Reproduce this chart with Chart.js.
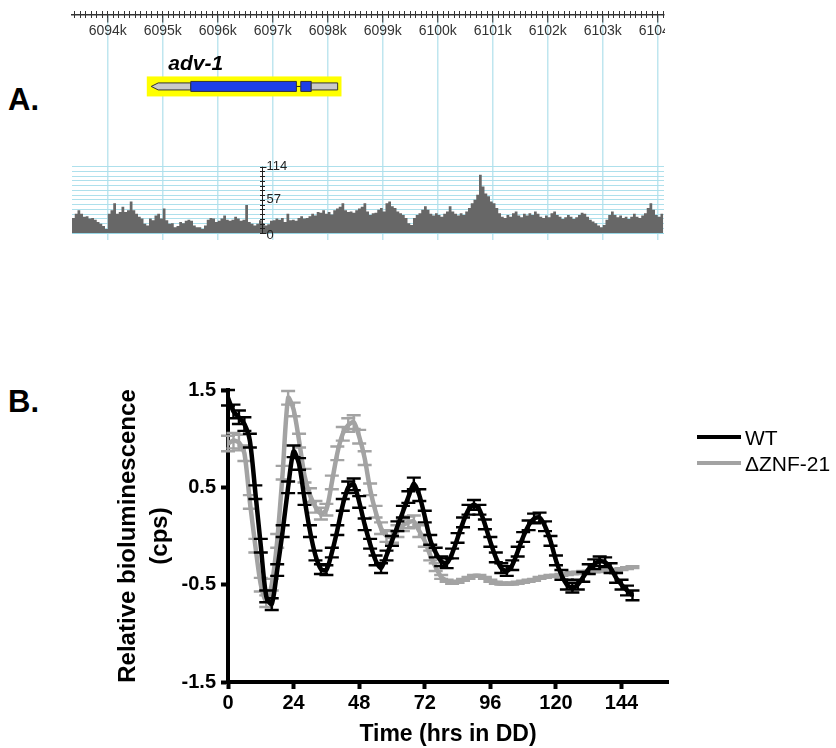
<!DOCTYPE html>
<html><head><meta charset="utf-8">
<script src="https://cdn.jsdelivr.net/npm/chart.js@4.4.1/dist/chart.umd.min.js"></script>
<style>
html,body{margin:0;padding:0;background:#fff;width:836px;height:748px;overflow:hidden;font-family:"Liberation Sans",Arial,sans-serif;}
#wrapA{position:absolute;left:0;top:0;width:665px;height:245px;overflow:hidden;}
#cA{position:absolute;left:0;top:0;}
#wrapB{position:absolute;left:0;top:370px;width:836px;height:378px;}
.panel{position:absolute;font-weight:bold;font-size:31px;line-height:1;}
#legend{position:absolute;left:697px;top:424px;font-size:21px;line-height:1;}
.li{display:flex;align-items:center;height:26px;white-space:nowrap;}
.sw{width:44px;height:4px;margin-right:4px;}
</style></head><body>
<div class="panel" style="left:8px;top:84px">A.</div>
<div class="panel" style="left:8px;top:386px">B.</div>
<div id="wrapA"><canvas id="cA" width="760" height="245"></canvas></div>
<div id="wrapB"><canvas id="cB" width="836" height="378"></canvas></div>
<div id="legend"></div>
<script>
// ---------------- Panel A data ----------------
const rulerKb = [6094, 6095, 6096, 6097, 6098, 6099, 6100, 6101, 6102, 6103, 6104];
const covStartKb = 6093.35;
const covBinKb = 0.05;
const coverage = [
 25,26,33,39,33,28,29,25,26,23,
 19,16,12,7,33,39,51,33,36,45,
 36,39,54,39,33,28,25,16,13,25,
 22,30,33,25,42,22,16,17,10,12,
 19,17,21,23,21,13,10,10,7,13,
 23,26,25,19,21,25,30,23,21,23,
 28,25,21,23,48,19,16,13,16,22,
 17,13,15,21,22,25,23,26,19,33,
 22,23,21,26,29,25,26,29,33,30,
 36,35,39,33,36,32,39,42,45,51,
 39,36,37,35,39,42,45,51,
 37,31,34,35,40,43,37,51,54,46,
 43,37,34,31,26,17,14,26,31,34,
 40,46,40,33,30,34,31,28,33,37,
 46,37,33,30,34,31,37,43,51,57,
 66,100,80,68,63,54,51,43,34,28,
 26,31,28,34,37,30,27,33,30,34,
 31,37,33,28,26,30,27,34,37,31,
 28,24,27,31,28,24,27,31,35,33,
 28,23,20,17,13,10,14,23,31,37,
 31,27,30,26,28,24,28,33,28,26,
 30,34,43,51,40,31,28,33
];
const covAxisMax = 114;
const covAxisLabels = [0, 57, 114];
const covGridDivisions = 14;
const geneName = 'adv-1';
const geneBox = [6094.71, 6098.25];
const geneParts = [['utr', 6094.79, 6095.51], ['cds', 6095.51, 6097.43], ['cds', 6097.51, 6097.70], ['utr', 6097.70, 6098.18]];
const geneLabelKb = 6095.6;
const miniAxisKb = 6096.81;

// ---------------- Panel B data ----------------
const hours = [0,2,4,6,8,10,12,14,16,18,20,22,24,26,28,30,32,34,36,38,40,42,44,46,48,50,52,54,56,58,60,62,64,66,68,70,72,74,76,78,80,82,84,86,88,90,92,94,96,98,100,102,104,106,108,110,112,114,116,118,120,122,124,126,128,130,132,134,136,138,140,142,144,146,148];
const wtMean = [
 1.42,1.28,1.22,1.15,0.98,0.45,-0.10,-0.62,-0.70,-0.35,
 0.05,0.50,0.87,0.74,0.38,0.05,-0.20,-0.34,-0.35,-0.17,
 0.06,0.32,0.50,0.53,0.35,0.12,-0.08,-0.25,-0.33,-0.20,
 -0.05,0.10,0.25,0.40,0.54,0.42,0.20,-0.04,-0.17,-0.26,
 -0.28,-0.18,-0.02,0.14,0.27,0.32,0.27,0.12,-0.06,-0.22,
 -0.33,-0.36,-0.30,-0.16,-0.01,0.11,0.18,0.19,0.10,-0.05,
 -0.25,-0.40,-0.50,-0.53,-0.50,-0.42,-0.34,-0.29,-0.26,-0.27,
 -0.33,-0.43,-0.50,-0.56,-0.61];
const wtSem = [
 0.08,0.07,0.07,0.07,0.07,0.07,0.07,0.06,0.06,0.06,
 0.06,0.06,0.06,0.06,0.06,0.06,0.05,0.05,0.05,0.05,
 0.05,0.06,0.06,0.06,0.06,0.06,0.05,0.05,0.05,0.05,
 0.05,0.05,0.06,0.06,0.06,0.06,0.06,0.05,0.05,0.05,
 0.05,0.05,0.05,0.05,0.05,0.05,0.05,0.05,0.05,0.05,
 0.05,0.05,0.05,0.05,0.05,0.05,0.05,0.05,0.05,0.05,
 0.05,0.05,0.05,0.05,0.05,0.05,0.05,0.05,0.05,0.05,
 0.05,0.05,0.05,0.05,0.05];
const znfMean = [
 0.95,0.98,0.96,0.85,0.35,-0.10,-0.50,-0.67,-0.50,-0.05,
 0.65,1.42,1.30,0.98,0.62,0.42,0.30,0.23,0.27,0.55,
 0.85,1.05,1.14,1.17,1.02,0.80,0.48,0.25,0.08,0.00,
 -0.01,0.05,0.11,0.14,0.15,0.05,-0.05,-0.20,-0.32,-0.42,
 -0.46,-0.48,-0.47,-0.45,-0.43,-0.41,-0.41,-0.43,-0.46,-0.48,
 -0.49,-0.49,-0.49,-0.48,-0.47,-0.46,-0.45,-0.43,-0.42,-0.41,
 -0.41,-0.40,-0.39,-0.38,-0.38,-0.37,-0.37,-0.36,-0.36,-0.35,
 -0.35,-0.35,-0.34,-0.33,-0.32];
const znfSem = [
 0.08,0.08,0.08,0.08,0.07,0.07,0.07,0.06,0.06,0.07,
 0.07,0.07,0.07,0.07,0.07,0.07,0.06,0.06,0.06,0.07,
 0.07,0.07,0.07,0.07,0.07,0.07,0.06,0.06,0.06,0.06,
 0.06,0.06,0.06,0.06,0.06,0.06,0.06,0.05,0.04,0.02,
 0.01,0.01,0.01,0.01,0.01,0.01,0.01,0.01,0.01,0.01,
 0.01,0.01,0.01,0.01,0.01,0.01,0.01,0.01,0.01,0.01,
 0.01,0.01,0.01,0.01,0.01,0.01,0.01,0.01,0.01,0.01,
 0.01,0.01,0.01,0.01,0.01];
const xTickHours = [0, 24, 48, 72, 96, 120, 144];
const yTickValues = [-1.5, -0.5, 0.5, 1.5];
const seriesNames = ['WT', '\u0394ZNF-21'];
const seriesColors = ['#000000', '#a3a3a3'];

const FONT = '"Liberation Sans", Arial, Helvetica, sans-serif';
Chart.defaults.font.family = FONT;

// ---------------- Panel A chart ----------------
const GENE_LANE = 252;
const geneTrackPlugin = {
  id: 'geneTrack',
  afterDatasetsDraw(chart) {
    const {ctx} = chart;
    const x = chart.scales.x, y = chart.scales.y;
    ctx.save();
    const yc = y.getPixelForValue(GENE_LANE);
    const bx0 = x.getPixelForValue(geneBox[0]), bx1 = x.getPixelForValue(geneBox[1]);
    ctx.fillStyle = '#ffff00';
    ctx.fillRect(bx0, yc - 10, bx1 - bx0, 20);
    // intron connectors
    ctx.strokeStyle = '#222'; ctx.lineWidth = 1;
    for (let i = 0; i < geneParts.length - 1; i++) {
      const e = x.getPixelForValue(geneParts[i][2]);
      const s = x.getPixelForValue(geneParts[i + 1][1]);
      if (s > e) { ctx.beginPath(); ctx.moveTo(e, yc); ctx.lineTo(s, yc); ctx.stroke(); }
    }
    geneParts.forEach(([kind, s, e], i) => {
      const a = x.getPixelForValue(s), b = x.getPixelForValue(e);
      const h = kind === 'cds' ? 10 : 7;
      ctx.beginPath();
      if (i === 0) {
        ctx.moveTo(a, yc); ctx.lineTo(a + 7, yc - h / 2); ctx.lineTo(b, yc - h / 2);
        ctx.lineTo(b, yc + h / 2); ctx.lineTo(a + 7, yc + h / 2); ctx.closePath();
      } else {
        ctx.rect(a, yc - h / 2, b - a, h);
      }
      ctx.fillStyle = kind === 'cds' ? '#1e3fe8' : '#c9c9c9';
      ctx.fill();
      ctx.lineWidth = 1; ctx.strokeStyle = '#333'; ctx.stroke();
    });
    ctx.font = 'italic bold 21px ' + FONT;
    ctx.fillStyle = '#000'; ctx.textAlign = 'center'; ctx.textBaseline = 'alphabetic';
    ctx.fillText(geneName, x.getPixelForValue(geneLabelKb), yc - 16);
    // small coverage axis
    const mx = Math.round(x.getPixelForValue(miniAxisKb)) + 0.5;
    const yT = y.getPixelForValue(covAxisMax), yB = y.getPixelForValue(0);
    ctx.strokeStyle = '#222'; ctx.lineWidth = 1;
    ctx.beginPath(); ctx.moveTo(mx, yT); ctx.lineTo(mx, yB); ctx.stroke();
    for (let k = 0; k <= covGridDivisions; k++) {
      const py = Math.round(y.getPixelForValue(covAxisMax * k / covGridDivisions)) + 0.5;
      ctx.beginPath(); ctx.moveTo(mx - 2.5, py); ctx.lineTo(mx + ((k === 0 || k === covGridDivisions) ? 4 : 2.5), py); ctx.stroke();
    }
    ctx.font = '13px ' + FONT; ctx.fillStyle = '#222'; ctx.textAlign = 'left'; ctx.textBaseline = 'middle';
    covAxisLabels.forEach(v => ctx.fillText(String(v), mx + 4, y.getPixelForValue(v) + (v === 0 ? 2 : 0)));
    ctx.restore();
  }
};

const kbMin = 6093.35, kbMax = 6104.114;
const minorTicks = (s) => {
  const t = [];
  for (let v = Math.ceil(s.min * 10); v <= Math.floor(s.max * 10); v++) t.push({value: v / 10});
  s.ticks = t;
};

new Chart(document.getElementById('cA'), {
  type: 'line',
  data: {
    datasets: [{
      data: coverage.map((v, i) => ({x: covStartKb + i * covBinKb, y: v})),
      stepped: 'after',
      fill: 'origin',
      backgroundColor: '#676767',
      borderColor: '#676767',
      borderWidth: 0,
      pointRadius: 0,
      xAxisID: 'x', yAxisID: 'y'
    }]
  },
  options: {
    responsive: false, animation: false,
    layout: {padding: {top: 11, left: 72, right: 760 - 664, bottom: 5}},
    plugins: {legend: {display: false}, tooltip: {enabled: false}},
    scales: {
      x: {
        type: 'linear', axis: 'x', min: kbMin, max: kbMax,
        position: {y: 374.8},
        afterBuildTicks: s => { s.ticks = rulerKb.map(v => ({value: v})); },
        grid: {display: true, drawOnChartArea: true, color: '#bfe6ef', lineWidth: 1.5, drawTicks: true, tickLength: 7, tickColor: '#333', tickWidth: 1},
        border: {display: true, color: '#333', width: 1.5},
        ticks: {autoSkip: false, maxRotation: 0, padding: 1, color: '#333', font: {size: 14}, callback: v => v + 'k'}
      },
      xm: {
        type: 'linear', axis: 'x', min: kbMin, max: kbMax,
        position: {y: 374.8},
        afterBuildTicks: minorTicks,
        grid: {display: true, drawOnChartArea: false, drawTicks: true, tickLength: 3, tickColor: '#333', tickWidth: 1},
        border: {display: false},
        ticks: {display: false}
      },
      xa: {
        type: 'linear', axis: 'x', min: kbMin, max: kbMax, position: 'top',
        afterBuildTicks: minorTicks,
        afterFit: s => { s.height = 4; },
        grid: {display: true, drawOnChartArea: false, drawTicks: true, tickLength: 4, tickColor: '#333', tickWidth: 1},
        border: {display: false},
        ticks: {display: false}
      },
      y: {
        type: 'linear', min: -12.0, max: 374.8,
        afterBuildTicks: s => { const t = []; for (let k = 0; k <= covGridDivisions; k++) t.push({value: covAxisMax * k / covGridDivisions}); s.ticks = t; },
        afterFit: s => { s.width = 0; },
        grid: {display: true, drawOnChartArea: true, drawTicks: false, color: c => (c.tick && c.tick.value === 0) ? '#97d6e5' : '#aee0ec', lineWidth: 1},
        border: {display: false},
        ticks: {display: false}
      }
    }
  },
  plugins: [geneTrackPlugin]
});

// ---------------- Panel B chart ----------------
const errorBarPlugin = {
  id: 'errorBars',
  afterDatasetDraw(chart, args) {
    const ds = chart.data.datasets[args.index];
    if (!ds.errors) return;
    const {ctx} = chart; const x = chart.scales.x, y = chart.scales.y;
    ctx.save();
    ctx.strokeStyle = ds.borderColor; ctx.lineWidth = 2.4; ctx.lineCap = 'butt';
    ds.data.forEach((p, i) => {
      const e = ds.errors[i];
      const px = x.getPixelForValue(p.x);
      const t = y.getPixelForValue(p.y + e), b = y.getPixelForValue(p.y - e);
      ctx.beginPath();
      ctx.moveTo(px, t); ctx.lineTo(px, b);
      ctx.moveTo(px - 7, t); ctx.lineTo(px + 7, t);
      ctx.moveTo(px - 7, b); ctx.lineTo(px + 7, b);
      ctx.stroke();
    });
    ctx.restore();
  }
};

const means = [wtMean, znfMean], sems = [wtSem, znfSem];
const tickFont = {size: 20, weight: 'bold'};
new Chart(document.getElementById('cB'), {
  type: 'line',
  data: {
    datasets: seriesNames.map((name, k) => ({
      label: name,
      data: hours.map((h, i) => ({x: h, y: means[k][i]})),
      errors: sems[k],
      borderColor: seriesColors[k],
      backgroundColor: seriesColors[k],
      borderWidth: 4.5,
      pointRadius: 0,
      tension: 0.25,
      fill: false
    }))
  },
  options: {
    responsive: false, animation: false,
    layout: {padding: {top: 20, right: 168, bottom: 0, left: 0}},
    plugins: {legend: {display: false}, tooltip: {enabled: false}},
    scales: {
      x: {
        type: 'linear', min: 0, max: 161,
        afterBuildTicks: s => { s.ticks = xTickHours.map(v => ({value: v})); },
        afterFit: s => { s.height = 66; },
        grid: {drawOnChartArea: false, drawTicks: true, tickLength: 7, tickWidth: 4, tickColor: '#000'},
        border: {display: true, color: '#000', width: 4},
        ticks: {color: '#000', font: tickFont, padding: 2, maxRotation: 0, autoSkip: false},
        title: {display: true, text: 'Time (hrs in DD)', color: '#000', font: {size: 23, weight: 'bold', lineHeight: 1.2}, padding: 0}
      },
      y: {
        type: 'linear', min: -1.5, max: 1.5,
        afterBuildTicks: s => { s.ticks = yTickValues.map(v => ({value: v})); },
        afterFit: s => { s.width = 228; },
        grid: {drawOnChartArea: false, drawTicks: true, tickLength: 7, tickWidth: 4, tickColor: '#000'},
        border: {display: true, color: '#000', width: 4},
        ticks: {color: '#000', font: tickFont, padding: 5, callback: v => String(v)},
        title: {display: true, text: ['Relative bioluminescence', '(cps)'], color: '#000', font: {size: 24, weight: 'bold', lineHeight: 1.35}, padding: {top: 112, bottom: 0}}
      }
    }
  },
  plugins: [errorBarPlugin]
});

// legend (HTML text, built from the series lists)
const lg = document.getElementById('legend');
seriesNames.forEach((n, k) => {
  const row = document.createElement('div'); row.className = 'li';
  const sw = document.createElement('div'); sw.className = 'sw'; sw.style.background = seriesColors[k];
  const tx = document.createElement('span'); tx.textContent = n;
  row.appendChild(sw); row.appendChild(tx); lg.appendChild(row);
});
</script>
</body></html>
